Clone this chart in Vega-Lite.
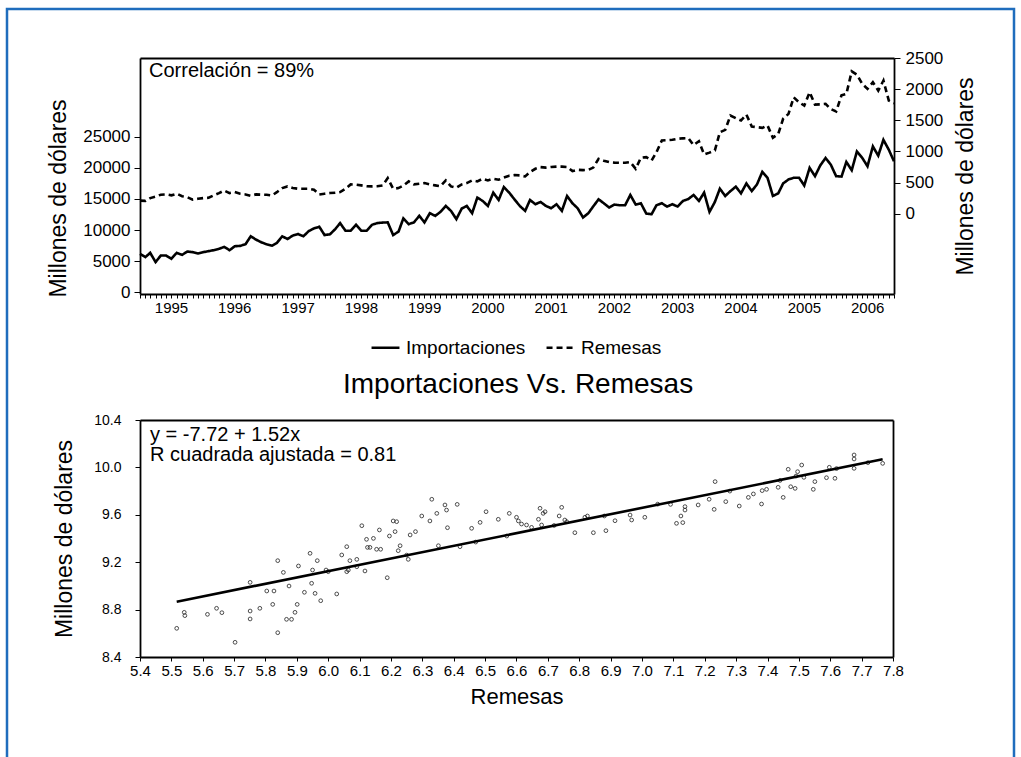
{
  "$schema": "https://vega.github.io/schema/vega-lite/v6.json",
  "width": 1007,
  "height": 760,
  "autosize": {"type": "none"},
  "padding": {"left": 7, "top": 9, "right": 7, "bottom": 0},
  "background": "white",
  "config": {
    "view": {"stroke": "#1f6dbd", "strokeWidth": 2.5},
    "font": "Liberation Sans",
    "axis": {"grid": false, "domainColor": "black", "domainWidth": 1.8, "tickColor": "black", "tickWidth": 1, "labelColor": "black", "titleColor": "black", "labelFont": "Liberation Sans", "titleFont": "Liberation Sans", "titleFontWeight": "normal"},
    "legend": {"labelFont": "Liberation Sans", "labelColor": "black"},
    "text": {"font": "Liberation Sans", "color": "black"}
  },
  "datasets": {
    "ts": [
      {"fecha":"1995-01-01","imp":6165,"rem":210},{"fecha":"1995-02-01","imp":5640,"rem":205},{"fecha":"1995-03-01","imp":6320,"rem":250},{"fecha":"1995-04-01","imp":4840,"rem":275},{"fecha":"1995-05-01","imp":5890,"rem":305},{"fecha":"1995-06-01","imp":5890,"rem":310},{"fecha":"1995-07-01","imp":5370,"rem":295},{"fecha":"1995-08-01","imp":6320,"rem":320},{"fecha":"1995-09-01","imp":6000,"rem":280},{"fecha":"1995-10-01","imp":6540,"rem":265},{"fecha":"1995-11-01","imp":6440,"rem":225},{"fecha":"1995-12-01","imp":6220,"rem":240},
      {"fecha":"1996-01-01","imp":6440,"rem":250},{"fecha":"1996-02-01","imp":6600,"rem":256},{"fecha":"1996-03-01","imp":6750,"rem":293},{"fecha":"1996-04-01","imp":6970,"rem":330},{"fecha":"1996-05-01","imp":7280,"rem":372},{"fecha":"1996-06-01","imp":6750,"rem":331},{"fecha":"1996-07-01","imp":7390,"rem":347},{"fecha":"1996-08-01","imp":7450,"rem":320},{"fecha":"1996-09-01","imp":7710,"rem":309},{"fecha":"1996-10-01","imp":8990,"rem":288},{"fecha":"1996-11-01","imp":8450,"rem":309},{"fecha":"1996-12-01","imp":8030,"rem":305},
      {"fecha":"1997-01-01","imp":7700,"rem":304},{"fecha":"1997-02-01","imp":7490,"rem":293},{"fecha":"1997-03-01","imp":7920,"rem":345},{"fecha":"1997-04-01","imp":8990,"rem":410},{"fecha":"1997-05-01","imp":8560,"rem":438},{"fecha":"1997-06-01","imp":9100,"rem":411},{"fecha":"1997-07-01","imp":9360,"rem":400},{"fecha":"1997-08-01","imp":8990,"rem":400},{"fecha":"1997-09-01","imp":9830,"rem":400},{"fecha":"1997-10-01","imp":10260,"rem":384},{"fecha":"1997-11-01","imp":10525,"rem":309},{"fecha":"1997-12-01","imp":9200,"rem":320},
      {"fecha":"1998-01-01","imp":9300,"rem":331},{"fecha":"1998-02-01","imp":10150,"rem":335},{"fecha":"1998-03-01","imp":11115,"rem":347},{"fecha":"1998-04-01","imp":9890,"rem":400},{"fecha":"1998-05-01","imp":9890,"rem":470},{"fecha":"1998-06-01","imp":10840,"rem":465},{"fecha":"1998-07-01","imp":9890,"rem":454},{"fecha":"1998-08-01","imp":9890,"rem":440},{"fecha":"1998-09-01","imp":10840,"rem":438},{"fecha":"1998-10-01","imp":11115,"rem":440},{"fecha":"1998-11-01","imp":11200,"rem":454},{"fecha":"1998-12-01","imp":11230,"rem":571},
      {"fecha":"1999-01-01","imp":9200,"rem":400},{"fecha":"1999-02-01","imp":9730,"rem":411},{"fecha":"1999-03-01","imp":11870,"rem":450},{"fecha":"1999-04-01","imp":10950,"rem":518},{"fecha":"1999-05-01","imp":11230,"rem":470},{"fecha":"1999-06-01","imp":12280,"rem":481},{"fecha":"1999-07-01","imp":11230,"rem":491},{"fecha":"1999-08-01","imp":12710,"rem":470},{"fecha":"1999-09-01","imp":12280,"rem":454},{"fecha":"1999-10-01","imp":12920,"rem":440},{"fecha":"1999-11-01","imp":13880,"rem":534},{"fecha":"1999-12-01","imp":13080,"rem":438},
      {"fecha":"2000-01-01","imp":11750,"rem":416},{"fecha":"2000-02-01","imp":13460,"rem":470},{"fecha":"2000-03-01","imp":13880,"rem":491},{"fecha":"2000-04-01","imp":12710,"rem":534},{"fecha":"2000-05-01","imp":15220,"rem":518},{"fecha":"2000-06-01","imp":14680,"rem":561},{"fecha":"2000-07-01","imp":13880,"rem":534},{"fecha":"2000-08-01","imp":16020,"rem":561},{"fecha":"2000-09-01","imp":14840,"rem":545},{"fecha":"2000-10-01","imp":16910,"rem":580},{"fecha":"2000-11-01","imp":16020,"rem":610},{"fecha":"2000-12-01","imp":14950,"rem":620},
      {"fecha":"2001-01-01","imp":13880,"rem":615},{"fecha":"2001-02-01","imp":13080,"rem":598},{"fecha":"2001-03-01","imp":14840,"rem":667},{"fecha":"2001-04-01","imp":14150,"rem":721},{"fecha":"2001-05-01","imp":14520,"rem":748},{"fecha":"2001-06-01","imp":13880,"rem":740},{"fecha":"2001-07-01","imp":13510,"rem":750},{"fecha":"2001-08-01","imp":14150,"rem":755},{"fecha":"2001-09-01","imp":13080,"rem":755},{"fecha":"2001-10-01","imp":15480,"rem":750},{"fecha":"2001-11-01","imp":14310,"rem":683},{"fecha":"2001-12-01","imp":13510,"rem":705},
      {"fecha":"2002-01-01","imp":12020,"rem":700},{"fecha":"2002-02-01","imp":12710,"rem":705},{"fecha":"2002-03-01","imp":13800,"rem":740},{"fecha":"2002-04-01","imp":14950,"rem":881},{"fecha":"2002-05-01","imp":14310,"rem":850},{"fecha":"2002-06-01","imp":13620,"rem":828},{"fecha":"2002-07-01","imp":14100,"rem":820},{"fecha":"2002-08-01","imp":13990,"rem":817},{"fecha":"2002-09-01","imp":13990,"rem":817},{"fecha":"2002-10-01","imp":15640,"rem":828},{"fecha":"2002-11-01","imp":14100,"rem":721},{"fecha":"2002-12-01","imp":14310,"rem":898},
      {"fecha":"2003-01-01","imp":12660,"rem":908},{"fecha":"2003-02-01","imp":12550,"rem":855},{"fecha":"2003-03-01","imp":13990,"rem":988},{"fecha":"2003-04-01","imp":14310,"rem":1175},{"fecha":"2003-05-01","imp":13780,"rem":1180},{"fecha":"2003-06-01","imp":14150,"rem":1186},{"fecha":"2003-07-01","imp":13780,"rem":1202},{"fecha":"2003-08-01","imp":14680,"rem":1210},{"fecha":"2003-09-01","imp":15000,"rem":1213},{"fecha":"2003-10-01","imp":15640,"rem":1100},{"fecha":"2003-11-01","imp":14680,"rem":1164},{"fecha":"2003-12-01","imp":16020,"rem":951},
      {"fecha":"2004-01-01","imp":12920,"rem":980},{"fecha":"2004-02-01","imp":14520,"rem":1015},{"fecha":"2004-03-01","imp":16660,"rem":1308},{"fecha":"2004-04-01","imp":15480,"rem":1346},{"fecha":"2004-05-01","imp":16270,"rem":1576},{"fecha":"2004-06-01","imp":16980,"rem":1533},{"fecha":"2004-07-01","imp":15910,"rem":1496},{"fecha":"2004-08-01","imp":17500,"rem":1592},{"fecha":"2004-09-01","imp":16270,"rem":1400},{"fecha":"2004-10-01","imp":17340,"rem":1389},{"fecha":"2004-11-01","imp":19370,"rem":1378},{"fecha":"2004-12-01","imp":18410,"rem":1416},
      {"fecha":"2005-01-01","imp":15480,"rem":1218},{"fecha":"2005-02-01","imp":15910,"rem":1282},{"fecha":"2005-03-01","imp":17500,"rem":1523},{"fecha":"2005-04-01","imp":18140,"rem":1603},{"fecha":"2005-05-01","imp":18410,"rem":1869},{"fecha":"2005-06-01","imp":18410,"rem":1789},{"fecha":"2005-07-01","imp":17180,"rem":1736},{"fecha":"2005-08-01","imp":20010,"rem":1950},{"fecha":"2005-09-01","imp":18670,"rem":1752},{"fecha":"2005-10-01","imp":20380,"rem":1755},{"fecha":"2005-11-01","imp":21600,"rem":1763},{"fecha":"2005-12-01","imp":20540,"rem":1680},
      {"fecha":"2006-01-01","imp":18670,"rem":1640},{"fecha":"2006-02-01","imp":18600,"rem":1900},{"fecha":"2006-03-01","imp":20970,"rem":1923},{"fecha":"2006-04-01","imp":19630,"rem":2286},{"fecha":"2006-05-01","imp":22660,"rem":2233},{"fecha":"2006-06-01","imp":21600,"rem":2084},{"fecha":"2006-07-01","imp":20270,"rem":2004},{"fecha":"2006-08-01","imp":23460,"rem":2110},{"fecha":"2006-09-01","imp":21970,"rem":1977},{"fecha":"2006-10-01","imp":24530,"rem":2137},{"fecha":"2006-11-01","imp":22930,"rem":1816},{"fecha":"2006-12-01","imp":21060,"rem":1773}
    ],
    "sc": [
      {"remesas":5.517,"importaciones":8.642},{"remesas":5.541,"importaciones":8.777},{"remesas":5.543,"importaciones":8.749},{"remesas":5.615,"importaciones":8.760},{"remesas":5.644,"importaciones":8.811},{"remesas":5.661,"importaciones":8.774},{"remesas":5.703,"importaciones":8.524},{"remesas":5.751,"importaciones":9.030},{"remesas":5.751,"importaciones":8.788},{"remesas":5.751,"importaciones":8.721},
      {"remesas":5.782,"importaciones":8.811},{"remesas":5.804,"importaciones":8.957},{"remesas":5.823,"importaciones":8.844},{"remesas":5.827,"importaciones":8.957},{"remesas":5.839,"importaciones":9.213},{"remesas":5.839,"importaciones":8.605},{"remesas":5.857,"importaciones":9.114},{"remesas":5.867,"importaciones":8.718},{"remesas":5.883,"importaciones":8.718},{"remesas":5.875,"importaciones":8.999},
      {"remesas":5.894,"importaciones":8.777},{"remesas":5.901,"importaciones":8.844},{"remesas":5.905,"importaciones":9.168},{"remesas":5.924,"importaciones":8.946},{"remesas":5.942,"importaciones":9.275},{"remesas":5.947,"importaciones":9.022},{"remesas":5.950,"importaciones":9.134},{"remesas":5.958,"importaciones":8.937},{"remesas":5.965,"importaciones":9.213},{"remesas":5.976,"importaciones":8.875},
      {"remesas":5.993,"importaciones":9.134},{"remesas":6.027,"importaciones":8.932},{"remesas":6.043,"importaciones":9.261},{"remesas":6.059,"importaciones":9.331},{"remesas":6.059,"importaciones":9.120},{"remesas":6.064,"importaciones":9.134},{"remesas":6.069,"importaciones":9.213},{"remesas":6.091,"importaciones":9.224},{"remesas":6.091,"importaciones":9.162},{"remesas":6.107,"importaciones":9.508},
      {"remesas":6.117,"importaciones":9.126},{"remesas":6.122,"importaciones":9.393},{"remesas":6.125,"importaciones":9.325},{"remesas":6.133,"importaciones":9.325},{"remesas":6.144,"importaciones":9.401},{"remesas":6.154,"importaciones":9.309},{"remesas":6.163,"importaciones":9.472},{"remesas":6.167,"importaciones":9.309},{"remesas":6.188,"importaciones":9.069},{"remesas":6.195,"importaciones":9.421},
      {"remesas":6.207,"importaciones":9.548},{"remesas":6.213,"importaciones":9.458},{"remesas":6.218,"importaciones":9.542},{"remesas":6.223,"importaciones":9.297},{"remesas":6.229,"importaciones":9.339},{"remesas":6.255,"importaciones":9.224},{"remesas":6.261,"importaciones":9.430},{"remesas":6.278,"importaciones":9.458},{"remesas":6.298,"importaciones":9.590},{"remesas":6.324,"importaciones":9.548},
      {"remesas":6.330,"importaciones":9.731},{"remesas":6.346,"importaciones":9.612},{"remesas":6.351,"importaciones":9.339},{"remesas":6.372,"importaciones":9.683},{"remesas":6.377,"importaciones":9.640},{"remesas":6.380,"importaciones":9.491},{"remesas":6.411,"importaciones":9.688},{"remesas":6.420,"importaciones":9.331},{"remesas":6.457,"importaciones":9.486},{"remesas":6.484,"importaciones":9.536},
      {"remesas":6.503,"importaciones":9.626},{"remesas":6.542,"importaciones":9.562},{"remesas":6.569,"importaciones":9.421},{"remesas":6.577,"importaciones":9.612},{"remesas":6.600,"importaciones":9.579},{"remesas":6.606,"importaciones":9.548},{"remesas":6.616,"importaciones":9.522},{"remesas":6.632,"importaciones":9.514},{"remesas":6.648,"importaciones":9.494},{"remesas":6.670,"importaciones":9.562},
      {"remesas":6.675,"importaciones":9.655},{"remesas":6.680,"importaciones":9.514},{"remesas":6.685,"importaciones":9.612},{"remesas":6.691,"importaciones":9.626},{"remesas":6.736,"importaciones":9.590},{"remesas":6.744,"importaciones":9.663},{"remesas":6.754,"importaciones":9.556},{"remesas":6.760,"importaciones":9.542},{"remesas":6.786,"importaciones":9.449},{"remesas":6.818,"importaciones":9.579},
      {"remesas":6.826,"importaciones":9.590},{"remesas":6.845,"importaciones":9.449},{"remesas":6.885,"importaciones":9.466},{"remesas":6.914,"importaciones":9.550},{"remesas":6.962,"importaciones":9.598},{"remesas":6.967,"importaciones":9.556},{"remesas":7.009,"importaciones":9.579},{"remesas":7.091,"importaciones":9.688},{"remesas":7.110,"importaciones":9.528},{"remesas":7.124,"importaciones":9.590},
      {"remesas":7.130,"importaciones":9.534},{"remesas":7.137,"importaciones":9.669},{"remesas":7.137,"importaciones":9.640},{"remesas":7.179,"importaciones":9.683},{"remesas":7.214,"importaciones":9.731},{"remesas":7.230,"importaciones":9.646},{"remesas":7.233,"importaciones":9.880},{"remesas":7.267,"importaciones":9.711},{"remesas":7.310,"importaciones":9.674},{"remesas":7.339,"importaciones":9.747},
      {"remesas":7.355,"importaciones":9.776},{"remesas":7.381,"importaciones":9.691},{"remesas":7.383,"importaciones":9.804},{"remesas":7.397,"importaciones":9.815},{"remesas":7.434,"importaciones":9.832},{"remesas":7.450,"importaciones":9.747},{"remesas":7.466,"importaciones":9.984},{"remesas":7.474,"importaciones":9.837},{"remesas":7.488,"importaciones":9.823},{"remesas":7.491,"importaciones":9.927},
      {"remesas":7.496,"importaciones":9.964},{"remesas":7.509,"importaciones":10.020},{"remesas":7.516,"importaciones":9.916},{"remesas":7.546,"importaciones":9.815},{"remesas":7.551,"importaciones":9.880},{"remesas":7.588,"importaciones":9.913},{"remesas":7.597,"importaciones":10.001},{"remesas":7.615,"importaciones":9.908},{"remesas":7.676,"importaciones":10.105},{"remesas":7.676,"importaciones":10.071},
      {"remesas":7.676,"importaciones":9.992},{"remesas":7.767,"importaciones":10.034},{"remesas":6.000,"importaciones":9.120},{"remesas":6.250,"importaciones":9.260},{"remesas":6.470,"importaciones":9.370},{"remesas":6.720,"importaciones":9.510},{"remesas":6.880,"importaciones":9.590},{"remesas":7.050,"importaciones":9.690},{"remesas":7.280,"importaciones":9.800},{"remesas":7.440,"importaciones":9.890},
      {"remesas":7.620,"importaciones":9.990},{"remesas":7.720,"importaciones":10.040}
    ],
    "fit": [
      {"remesas":5.517,"importaciones":8.867},{"remesas":7.767,"importaciones":10.068}
    ]
  },
  "layer": [
    {
      "data": {"name": "ts"},
      "mark": {"type": "line", "strokeWidth": 2.6, "color": "black"},
      "encoding": {
        "x": {"field": "fecha", "type": "temporal",
          "scale": {"type": "utc", "domain": [{"year": 1995, "month": 1, "date": 1, "utc": true}, {"year": 2006, "month": 12, "date": 1, "utc": true}], "range": [133, 887], "nice": false},
          "axis": {"orient": "bottom", "offset": -475, "title": null, "tickCount": {"interval": "month", "step": 1}, "tickSize": 4, "labelExpr": "utcFormat(datum.value, '%m') == '01' ? utcFormat(datum.value, '%Y') : ''", "labelOffset": 31, "labelFlush": false, "labelOverlap": false, "labelBound": false, "labelFontSize": 15, "labelPadding": 2}},
        "y": {"field": "imp", "type": "quantitative",
          "scale": {"domain": [-300, 37700], "range": [285, 49], "nice": false, "zero": false},
          "axis": {"orient": "left", "offset": -133, "values": [0, 5000, 10000, 15000, 20000, 25000], "format": "d", "tickSize": 6, "labelPadding": 4, "labelFontSize": 17, "title": "Millones de dólares", "titleFontSize": 23, "titlePadding": 12, "titleY": 189}},
        "strokeDash": {"datum": "Importaciones", "type": "nominal",
          "scale": {"domain": ["Importaciones", "Remesas"], "range": [[1, 0], [6, 4]]},
          "legend": {"title": null, "orient": "none", "legendX": 363, "legendY": 323, "direction": "horizontal", "symbolType": "stroke", "symbolSize": 780, "symbolStrokeWidth": 2.6, "symbolStrokeColor": "black", "labelFontSize": 19, "labelOffset": 5, "columnPadding": 15, "padding": 0}}
      }
    },
    {
      "data": {"name": "ts"},
      "mark": {"type": "line", "strokeWidth": 2.6, "color": "black"},
      "encoding": {
        "x": {"field": "fecha", "type": "temporal",
          "scale": {"type": "utc", "domain": [{"year": 1995, "month": 1, "date": 1, "utc": true}, {"year": 2006, "month": 12, "date": 1, "utc": true}], "range": [133, 887], "nice": false},
          "axis": {"orient": "top", "offset": -49, "title": null, "labels": false, "ticks": false}},
        "y": {"field": "rem", "type": "quantitative",
          "scale": {"domain": [-1290, 2500], "range": [285, 49], "nice": false, "zero": false},
          "axis": {"orient": "right", "offset": -120, "values": [0, 500, 1000, 1500, 2000, 2500], "format": "d", "tickSize": 6, "labelPadding": 5, "labelFontSize": 17, "labelBound": false, "labelOverlap": false, "title": "Millones de dólares", "titleFontSize": 23, "titlePadding": 12, "titleAngle": 270, "titleBaseline": "top"}},
        "strokeDash": {"datum": "Remesas", "type": "nominal"}
      }
    },
    {
      "data": {"values": [{}]},
      "mark": {"type": "text", "align": "left", "baseline": "middle", "fontSize": 20},
      "encoding": {
        "x": {"datum": {"year": 1995, "month": 2, "date": 22, "utc": true}, "type": "temporal",
          "scale": {"type": "utc", "domain": [{"year": 1995, "month": 1, "date": 1, "utc": true}, {"year": 2006, "month": 12, "date": 1, "utc": true}], "range": [133, 887], "nice": false}, "axis": null},
        "y": {"datum": 35600, "type": "quantitative", "scale": {"domain": [-300, 37700], "range": [285, 49], "nice": false, "zero": false}, "axis": null},
        "text": {"value": "Correlación = 89%"}
      }
    },
    {
      "data": {"name": "sc"},
      "mark": {"type": "point", "shape": "circle", "filled": false, "size": 14, "strokeWidth": 0.8, "color": "#222222", "opacity": 1},
      "encoding": {
        "x": {"field": "remesas", "type": "quantitative",
          "scale": {"domain": [5.4, 7.8], "range": [133, 886], "nice": false, "zero": false},
          "axis": {"orient": "bottom", "offset": -112, "values": [5.4, 5.5, 5.6, 5.7, 5.8, 5.9, 6.0, 6.1, 6.2, 6.3, 6.4, 6.5, 6.6, 6.7, 6.8, 6.9, 7.0, 7.1, 7.2, 7.3, 7.4, 7.5, 7.6, 7.7, 7.8], "format": ".1f", "tickSize": 4, "labelPadding": 2, "labelFontSize": 15, "labelFlush": false, "labelOverlap": false, "labelBound": false, "title": "Remesas", "titleFontSize": 22, "titlePadding": 8}},
        "y": {"field": "importaciones", "type": "quantitative",
          "scale": {"domain": [8.4, 10.4], "range": [648, 411], "nice": false, "zero": false},
          "axis": {"orient": "left", "offset": -133, "values": [8.4, 8.8, 9.2, 9.6, 10.0, 10.4], "format": ".1f", "tickSize": 5, "labelPadding": 14, "labelFontSize": 14, "title": "Millones de dólares", "titleFontSize": 23, "titlePadding": 17}}
      }
    },
    {
      "data": {"name": "fit"},
      "mark": {"type": "line", "strokeWidth": 2.6, "color": "black"},
      "encoding": {
        "x": {"field": "remesas", "type": "quantitative",
          "scale": {"domain": [5.4, 7.8], "range": [133, 886], "nice": false, "zero": false},
          "axis": {"orient": "top", "offset": -411, "title": null, "labels": false, "ticks": false}},
        "y": {"field": "importaciones", "type": "quantitative",
          "scale": {"domain": [8.4, 10.4], "range": [648, 411], "nice": false, "zero": false},
          "axis": {"orient": "right", "offset": -121, "title": null, "labels": false, "ticks": false}}
      }
    },
    {
      "data": {"values": [{}]},
      "mark": {"type": "text", "align": "left", "baseline": "middle", "fontSize": 20},
      "encoding": {
        "x": {"datum": 5.432, "type": "quantitative", "scale": {"domain": [5.4, 7.8], "range": [133, 886], "nice": false, "zero": false}, "axis": null},
        "y": {"datum": 10.273, "type": "quantitative", "scale": {"domain": [8.4, 10.4], "range": [648, 411], "nice": false, "zero": false}, "axis": null},
        "text": {"value": "y = -7.72 + 1.52x"}
      }
    },
    {
      "data": {"values": [{}]},
      "mark": {"type": "text", "align": "left", "baseline": "middle", "fontSize": 20},
      "encoding": {
        "x": {"datum": 5.432, "type": "quantitative", "scale": {"domain": [5.4, 7.8], "range": [133, 886], "nice": false, "zero": false}, "axis": null},
        "y": {"datum": 10.105, "type": "quantitative", "scale": {"domain": [8.4, 10.4], "range": [648, 411], "nice": false, "zero": false}, "axis": null},
        "text": {"value": "R cuadrada ajustada = 0.81"}
      }
    },
    {
      "data": {"values": [{}]},
      "mark": {"type": "text", "align": "center", "baseline": "middle", "fontSize": 28},
      "encoding": {
        "x": {"datum": 6.605, "type": "quantitative", "scale": {"domain": [5.4, 7.8], "range": [133, 886], "nice": false, "zero": false}, "axis": null},
        "y": {"datum": 10.695, "type": "quantitative", "scale": {"domain": [8.4, 10.4], "range": [648, 411], "nice": false, "zero": false}, "axis": null},
        "text": {"value": "Importaciones Vs. Remesas"}
      }
    }
  ],
  "resolve": {"scale": {"x": "independent", "y": "independent"}, "axis": {"x": "independent", "y": "independent"}}
}
